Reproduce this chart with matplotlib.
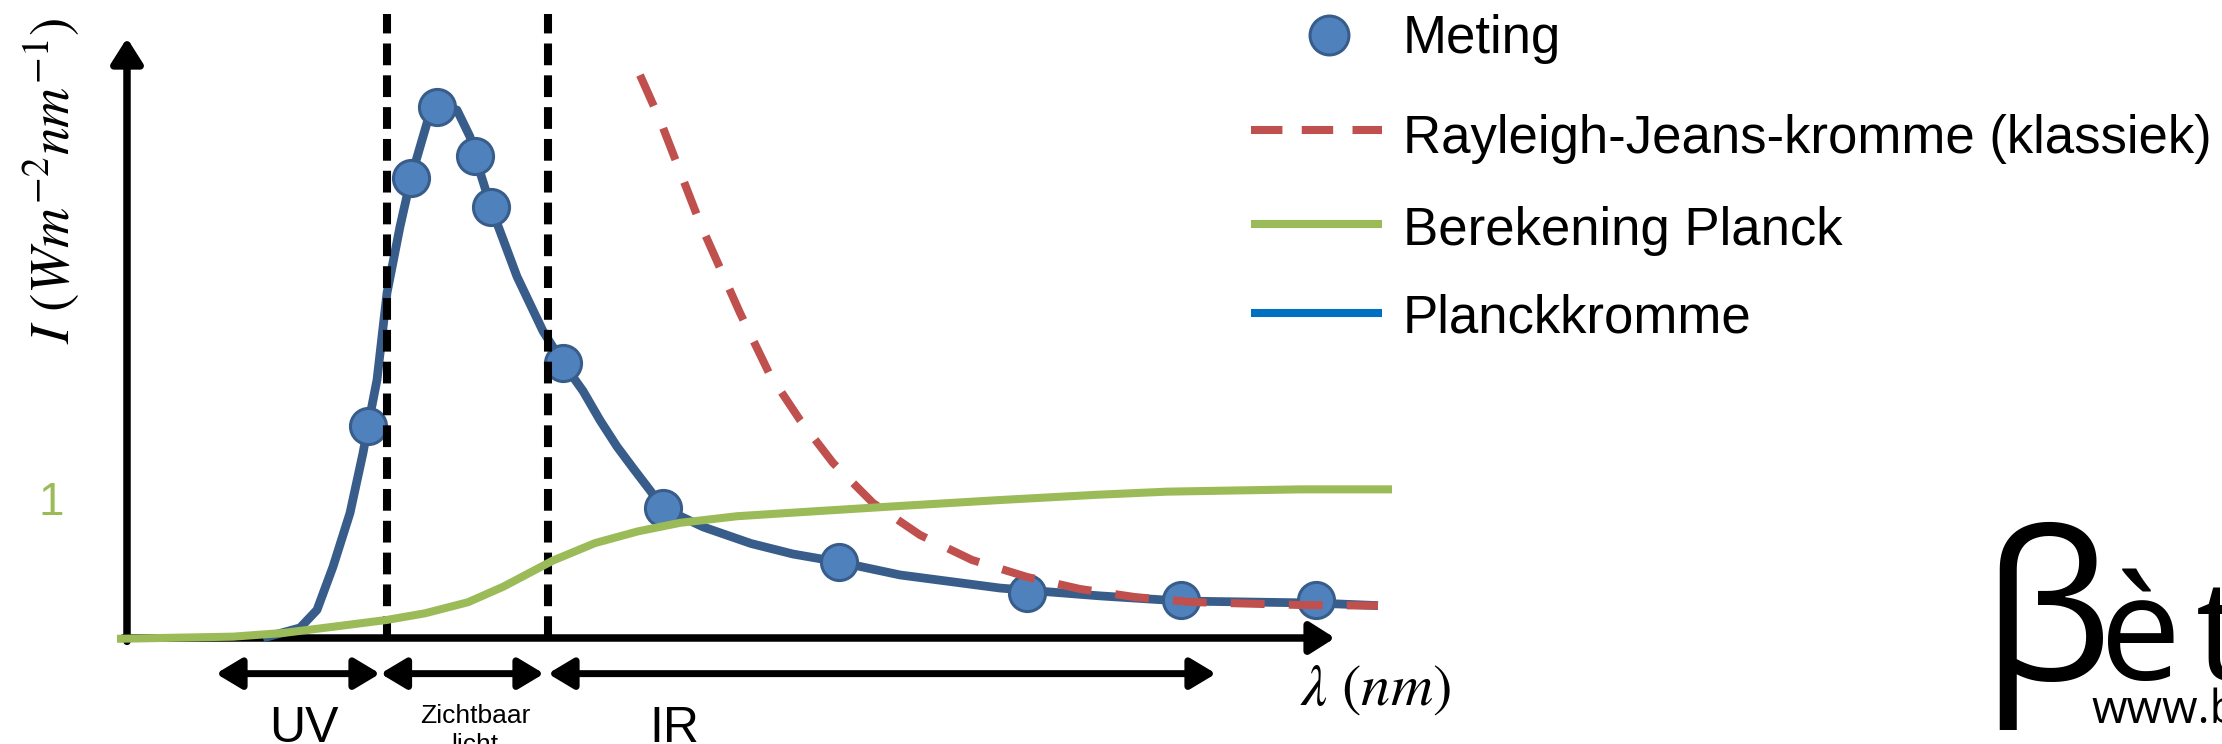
import matplotlib
matplotlib.use("Agg")
import matplotlib.pyplot as plt

plt.rcParams['font.family'] = ['Liberation Sans', 'DejaVu Sans']
plt.rcParams['mathtext.fontset'] = 'stix'

# ---------------- data (arbitrary units) ----------------
meting_x = [24.1, 28.4, 31.0, 34.8, 36.4, 43.6, 53.6, 71.2, 90.0, 105.4, 118.9]
meting_y = [1.571, 3.405, 3.931, 3.570, 3.192, 2.037, 0.961, 0.563, 0.331, 0.281, 0.281]

planck_x = [13.6, 17.3, 19.0, 20.6, 22.3, 23.6, 24.1, 25.0, 26.0, 27.3, 28.4, 30.0, 31.0,
            33.0, 34.3, 34.8, 36.4, 39.0, 41.6, 43.6, 45.6, 47.3, 49.0, 50.6, 52.3, 53.6,
            57.6, 62.4, 66.6, 71.2, 77.3, 87.3, 97.3, 105.4, 118.9, 125.1]
planck_y = [0.000, 0.075, 0.208, 0.528, 0.926, 1.370, 1.571, 1.912, 2.556, 3.047, 3.408,
            3.815, 3.933, 3.911, 3.713, 3.570, 3.192, 2.677, 2.273, 2.037, 1.830, 1.613,
            1.418, 1.259, 1.094, 0.963, 0.823, 0.700, 0.622, 0.563, 0.467, 0.370, 0.312,
            0.274, 0.259, 0.240]

rj_x = [51.3, 53.3, 57.3, 61.3, 64.3, 67.3, 70.6, 74.6, 79.3, 84.5, 90.0, 95.3, 100.8,
        106.5, 117.6, 125.1]
rj_y = [4.170, 3.837, 3.074, 2.408, 1.948, 1.615, 1.297, 1.000, 0.763, 0.578, 0.452,
        0.363, 0.303, 0.266, 0.244, 0.240]

calc_x = [-1.0, 10.6, 15.6, 20.6, 26.0, 29.8, 34.1, 37.6, 42.6, 46.8, 51.1, 55.3, 61.0,
          68.0, 77.3, 87.3, 97.0, 104.0, 117.3, 126.5]
calc_y = [-0.006, 0.010, 0.037, 0.083, 0.134, 0.183, 0.265, 0.379, 0.574, 0.703, 0.790,
          0.853, 0.902, 0.935, 0.978, 1.022, 1.061, 1.084, 1.101, 1.101]

visible_bounds = [26.0, 42.06]          # dashed lines
regions = ["UV", "Zichtbaar\nlicht", "IR"]
region_spans = [(8.9, 25.3), (25.35, 41.7), (42.1, 108.9)]
y_tick_label = "1"

legend_labels = ["Meting", "Rayleigh-Jeans-kromme (klassiek)", "Berekening Planck", "Planckkromme"]

# ---------------- colours ----------------
C_BLUE_LINE = '#385D8A'
C_MARK = '#4F81BD'
C_RED = '#C0504D'
C_GREEN = '#9BBB59'
C_LEG_BLUE = '#0070C0'

fig = plt.figure(figsize=(22.22, 7.44), dpi=100)
ax = fig.add_axes([0, 0, 1, 1])
ax.set_xlim(-12.7, 209.5)
ax.set_ylim(-0.7852, 4.7259)
ax.axis('off')

# axes with arrows
arrow_kw = dict(arrowstyle='-|>,head_length=0.6,head_width=0.38', lw=5.4,
                color='black', mutation_scale=25, shrinkA=0, shrinkB=0)
ax.annotate("", xy=(0, 4.444), xytext=(0, -0.025), arrowprops=arrow_kw, zorder=1)
ax.annotate("", xy=(120.8, 0.0), xytext=(-0.4, 0.0), arrowprops=arrow_kw, zorder=1)

# region arrows
for (a, b) in region_spans:
    ax.annotate("", xy=(b, -0.264), xytext=(a, -0.264),
                arrowprops=dict(arrowstyle='<|-|>,head_length=0.7,head_width=0.42', lw=5.0,
                                color='black', mutation_scale=22, shrinkA=0, shrinkB=0))

ax.text(17.7, -0.674, regions[0], fontsize=36, ha='center', va='center')
ax.text(34.8, -0.489, regions[1], fontsize=19, ha='center', va='top', linespacing=1.25)
ax.text(54.7, -0.674, regions[2], fontsize=36, ha='center', va='center')

# curves
ax.plot(planck_x, planck_y, color=C_BLUE_LINE, lw=6.3, solid_capstyle='butt',
        solid_joinstyle='round', zorder=2)
ax.plot(meting_x, meting_y, 'o', ms=26, mfc=C_MARK, mec=C_BLUE_LINE, mew=2.2, zorder=3)
for xv in visible_bounds:
    ax.plot([xv, xv], [0, 4.62], color='black', lw=5.8, dashes=(2.7, 1.25), zorder=4)
ax.plot(rj_x, rj_y, color=C_RED, lw=5.8, dashes=(4.2, 3.0), zorder=5)
ax.plot(calc_x, calc_y, color=C_GREEN, lw=5.8, solid_capstyle='butt',
        solid_joinstyle='round', zorder=6)

# axis labels
ax.text(-7.6, 3.385, r'$I\ (Wm^{-2}nm^{-1})$', fontsize=40, rotation=90,
        ha='center', va='center')
ax.text(124.8, -0.385, r'$\lambda\ (nm)$', fontsize=42, ha='center', va='center')
ax.text(-7.53, 1.0, y_tick_label, fontsize=33, color=C_GREEN, ha='center', va='center')

# legend (manual layout)
ax.plot([120.2], [4.467], 'o', ms=28, mfc=C_MARK, mec=C_BLUE_LINE, mew=2.2)
ax.plot([112.4, 125.5], [3.763, 3.763], color=C_RED, lw=5.8, dashes=(3.9, 2.4))
ax.plot([112.4, 125.5], [3.066, 3.066], color=C_GREEN, lw=5.8, solid_capstyle='butt')
ax.plot([112.4, 125.5], [2.408, 2.408], color=C_LEG_BLUE, lw=5.8, solid_capstyle='butt')
for lab, yv in zip(legend_labels, [4.437, 3.696, 3.015, 2.363]):
    ax.text(127.6, yv, lab, fontsize=38, ha='left', va='center')

# logo
logo_font = ['Open Sans', 'DejaVu Sans']
ax.text(185.4, -0.311, '\u03b2', fontsize=150, family=logo_font, ha='left', va='baseline')
ax.text(197.3, -0.311, '\u00e8', fontsize=104, family=logo_font, ha='left', va='baseline')
ax.text(206.9, -0.311, 't', fontsize=100, family=logo_font, ha='left', va='baseline')
ax.text(196.4, -0.630, 'www.b', fontsize=33, family=logo_font, ha='left', va='baseline')

fig.savefig('out.png', dpi=100, facecolor='white')
